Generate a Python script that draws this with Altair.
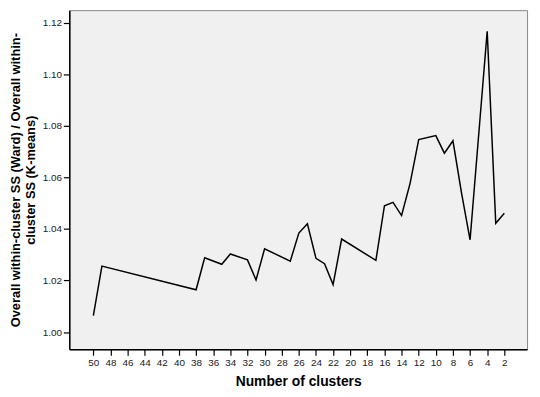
import altair as alt
import pandas as pd

clusters = [50, 49, 38, 37, 35, 34, 32, 31, 30, 27, 26, 25, 24, 23, 22, 21,
            17, 16, 15, 14, 13, 12, 10, 9, 8, 7, 6, 4, 3, 2]
ratio = [1.0064, 1.0256, 1.0164, 1.0288, 1.0263, 1.0303, 1.0280, 1.0202,
         1.0323, 1.0275, 1.0384, 1.0420, 1.0286, 1.0265, 1.0184, 1.0361,
         1.0278, 1.0490, 1.0503, 1.0452, 1.0578, 1.0747, 1.0762, 1.0694,
         1.0742, 1.0540, 1.0358, 1.1167, 1.0422, 1.0461]
x_ticks = list(range(2, 51, 2))
y_ticks = [1.00, 1.02, 1.04, 1.06, 1.08, 1.10, 1.12]

df = pd.DataFrame({"clusters": clusters, "ratio": ratio})

label_font = "Liberation Sans, Arial"
title_font = "Liberation Sans, Arial"

axis_style = dict(
    grid=False, domainColor="black", domainWidth=1.5,
    tickColor="black", tickSize=6, tickWidth=1.2,
    labelFont=label_font, labelFontSize=10, labelColor="#222222",
    labelPadding=2,
    titleFont=title_font, titleFontWeight="bold",
    titleColor="black",
)

chart = alt.Chart(df).mark_line(color="black", strokeWidth=1.5).encode(
    x=alt.X("clusters:Q",
            scale=alt.Scale(domain=[52.81, -0.656], nice=False, zero=False),
            axis=alt.Axis(values=x_ticks, title="Number of clusters",
                          labelAngle=0, titlePadding=8, titleFontSize=14,
                          **axis_style)),
    y=alt.Y("ratio:Q",
            scale=alt.Scale(domain=[0.99332, 1.12488], nice=False, zero=False),
            axis=alt.Axis(values=y_ticks, format=".2f",
                          title=["Overall within-cluster SS (Ward) / Overall within-",
                                 "cluster SS (K-means)"],
                          titlePadding=5, titleLineHeight=15, titleFontSize=13,
                          **axis_style)),
).properties(
    width=463, height=343,
    background="white",
    autosize=alt.AutoSizeParams(type="none"),
    padding={"left": 62, "top": 0, "right": 5, "bottom": 38},
).configure_view(
    fill="#f0f0f0", stroke="#888888", strokeWidth=1
)

chart.save("out.html", embed_options={"renderer": "svg", "actions": False})
